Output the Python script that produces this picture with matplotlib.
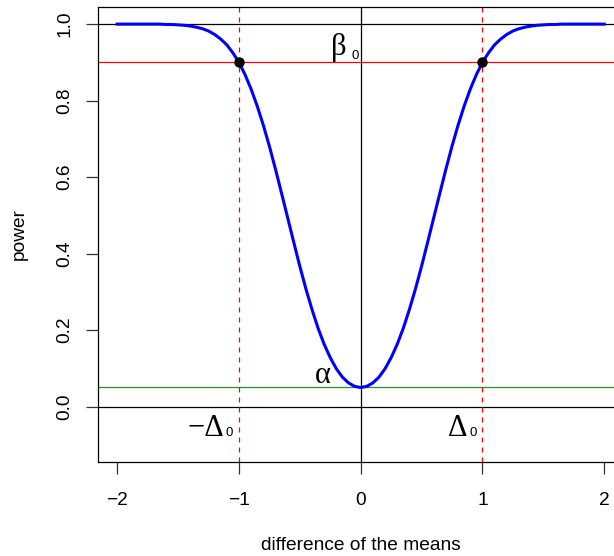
import matplotlib
matplotlib.use("Agg")
import matplotlib.pyplot as plt

# power of the two-sided test against the difference of the means
diff = [-2.00, -1.95, -1.90, -1.85, -1.80, -1.75, -1.70, -1.65, -1.60, -1.55,
        -1.50, -1.45, -1.40, -1.35, -1.30, -1.25, -1.20, -1.15, -1.10, -1.05,
        -1.00, -0.95, -0.90, -0.85, -0.80, -0.75, -0.70, -0.65, -0.60, -0.55,
        -0.50, -0.45, -0.40, -0.35, -0.30, -0.25, -0.20, -0.15, -0.10, -0.05,
        0.00, 0.05, 0.10, 0.15, 0.20, 0.25, 0.30, 0.35, 0.40, 0.45,
        0.50, 0.55, 0.60, 0.65, 0.70, 0.75, 0.80, 0.85, 0.90, 0.95,
        1.00, 1.05, 1.10, 1.15, 1.20, 1.25, 1.30, 1.35, 1.40, 1.45,
        1.50, 1.55, 1.60, 1.65, 1.70, 1.75, 1.80, 1.85, 1.90, 1.95, 2.00]
power = [1.000, 1.000, 1.000, 1.000, 1.000, 1.000, 1.000, 1.000, 0.999, 0.999,
         0.998, 0.997, 0.995, 0.992, 0.988, 0.982, 0.973, 0.961, 0.946, 0.925,
         0.900, 0.868, 0.830, 0.786, 0.736, 0.681, 0.621, 0.558, 0.494, 0.430,
         0.367, 0.308, 0.254, 0.205, 0.163, 0.128, 0.099, 0.077, 0.062, 0.053,
         0.050, 0.053, 0.062, 0.077, 0.099, 0.128, 0.163, 0.205, 0.254, 0.308,
         0.367, 0.430, 0.494, 0.558, 0.621, 0.681, 0.736, 0.786, 0.830, 0.868,
         0.900, 0.925, 0.946, 0.961, 0.973, 0.982, 0.988, 0.992, 0.995, 0.997,
         0.998, 0.999, 0.999, 1.000, 1.000, 1.000, 1.000, 1.000, 1.000, 1.000, 1.000]

alpha = 0.05
beta0 = 0.9
delta0 = 1.0

xticks = [-2, -1, 0, 1, 2]
xtick_labels = ["\u22122", "\u22121", "0", "1", "2"]
yticks = [0.0, 0.2, 0.4, 0.6, 0.8, 1.0]
ytick_labels = ["0.0", "0.2", "0.4", "0.6", "0.8", "1.0"]

plt.rcParams["font.family"] = ["Liberation Sans", "DejaVu Sans"]

fig = plt.figure(figsize=(6.14, 5.56), dpi=100)
ax = fig.add_axes([0.1591, 0.1696, 0.8567, 0.8173])

ax.plot(diff, power, color="blue", lw=2.2, zorder=3)

ax.axhline(1, color="black", lw=0.9)
ax.axhline(0, color="black", lw=0.9)
ax.axvline(0, color="black", lw=0.9)
ax.axhline(beta0, color="red", lw=0.9)
ax.axhline(alpha, color="#2e8b2e", lw=0.9)
for d in (-delta0, delta0):
    ax.axvline(d, color="red", lw=0.9, linestyle=(0, (4, 4)))
ax.plot([-delta0, delta0], [beta0, beta0], "o", color="black", ms=6.5, zorder=4)


def label(x, y, main, sx, sy, sub=None):
    ax.text(x, y, main, fontsize=22, family="Liberation Serif",
            ha="left", va="baseline")
    if sub is not None:
        ax.text(sx, sy, sub, fontsize=9.5, ha="left", va="baseline")


label(-0.245, 0.918, "\u03b2", -0.074, 0.909, "0")
label(-0.375, 0.062, "\u03b1", 0, 0)
label(-1.425, -0.078, "\u2212\u0394", -1.107, -0.077, "0")
label(0.712, -0.078, "\u0394", 0.890, -0.077, "0")

ax.set_xlim(-2.16, 2.16)
ax.set_ylim(-0.144, 1.044)
ax.set_xticks(xticks)
ax.set_xticklabels(xtick_labels)
ax.set_yticks(yticks)
ax.set_yticklabels(ytick_labels, rotation=90, va="center")
ax.tick_params(axis="both", length=8.5, width=0.9, labelsize=13.8, color="#333333")
ax.tick_params(axis="x", pad=13)
ax.tick_params(axis="y", pad=9)
for s in ax.spines.values():
    s.set_linewidth(0.9)

ax.set_xlabel("difference of the means", fontsize=13.8)
ax.xaxis.set_label_coords(0.5, -0.1846)
ax.set_ylabel("power", fontsize=13.8)
ax.yaxis.set_label_coords(-0.1496, 0.5)
ax.xaxis.label.set_va("center")
ax.yaxis.label.set_va("center")

fig.savefig("out.png", dpi=100)
